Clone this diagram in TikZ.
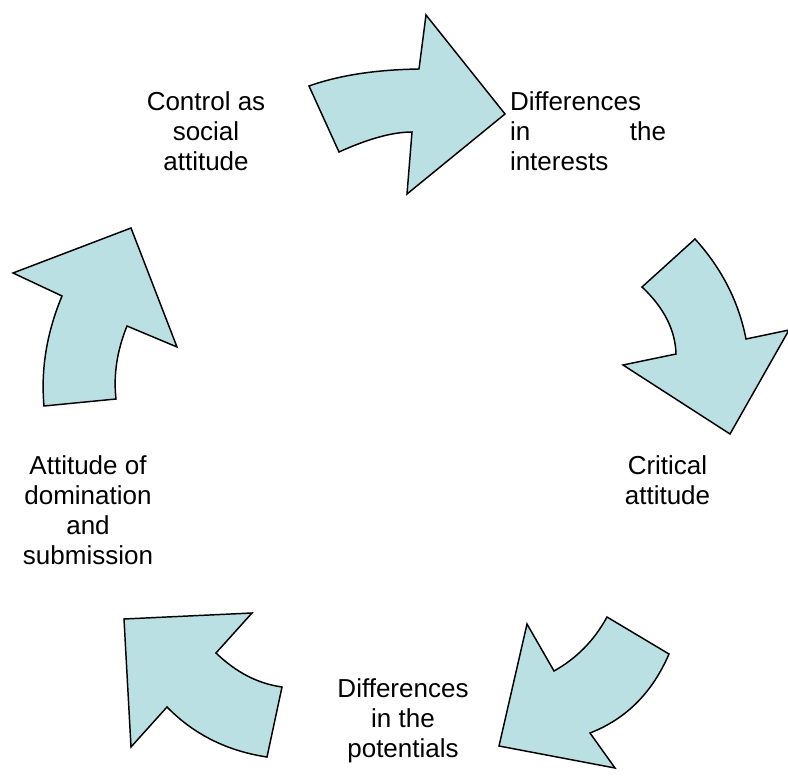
\documentclass[tikz,border=0pt]{standalone}
\usepackage{fontspec}
\setmainfont{Liberation Sans}
\usepackage{xcolor}
\usepackage{tikz}
\definecolor{arrowfill}{RGB}{187,224,227}
\setlength{\parindent}{0pt}

\begin{document}
\begin{tikzpicture}[x=0.75pt,y=-0.75pt,
		cyclearrow/.style={draw=black,fill=arrowfill,line width=1.1pt},
		phase/.style={inner sep=0pt,align=center,font=\fontsize{19.5}{22.5}\selectfont}]
		\useasboundingbox (0,0) rectangle (788,777);
		
		\draw[cyclearrow] (309,86) .. controls (339,75.3) and (375.7,69.7) .. (419,69) -- (426,15) -- (505,114) -- (407,194)
			-- (412,132) .. controls (392.7,132) and (368.3,138.7) .. (339,152) -- cycle;
		\draw[cyclearrow] (695,239) .. controls (721.7,268.3) and (738.7,301.7) .. (746,339) -- (789,330) -- (730,434) -- (623,365)
			-- (676,354) .. controls (675.3,330) and (664,307.7) .. (642,287) -- cycle;
		\draw[cyclearrow] (669,654) .. controls (652.3,692.7) and (626,719) .. (590,733) -- (615,768) -- (499,746) -- (527,624)
			-- (554,671) .. controls (576.7,658.3) and (594.3,640.3) .. (607,617) -- cycle;
		\draw[cyclearrow] (267,757) .. controls (227,751) and (193.7,734.3) .. (167,707) -- (131,747) -- (124,619) -- (252,613)
			-- (216,653) .. controls (236,672.3) and (258,683.7) .. (282,687) -- cycle;
		\draw[cyclearrow] (44,406) .. controls (40.7,369.3) and (46.7,332.7) .. (62,296) -- (13,273) -- (131,228) -- (177,347)
			-- (127,326) .. controls (117,350.7) and (113.3,375) .. (116,399) -- cycle;
		
		\node[phase] (control) at (206,131.5) {Control as\\social\\attitude};
		\node[phase,text width=117pt,align=left] (interests) at (588,131.5) {Differences\\in\hfill the\\interests};
		\node[phase] (critical) at (667.5,480.5) {Critical\\attitude};
		\node[phase] (potentials) at (403,721) {Differences\\in the\\potentials};
		\node[phase] (domination) at (88,510.5) {Attitude of\\domination\\and\\submission};
\end{tikzpicture}
\end{document}
